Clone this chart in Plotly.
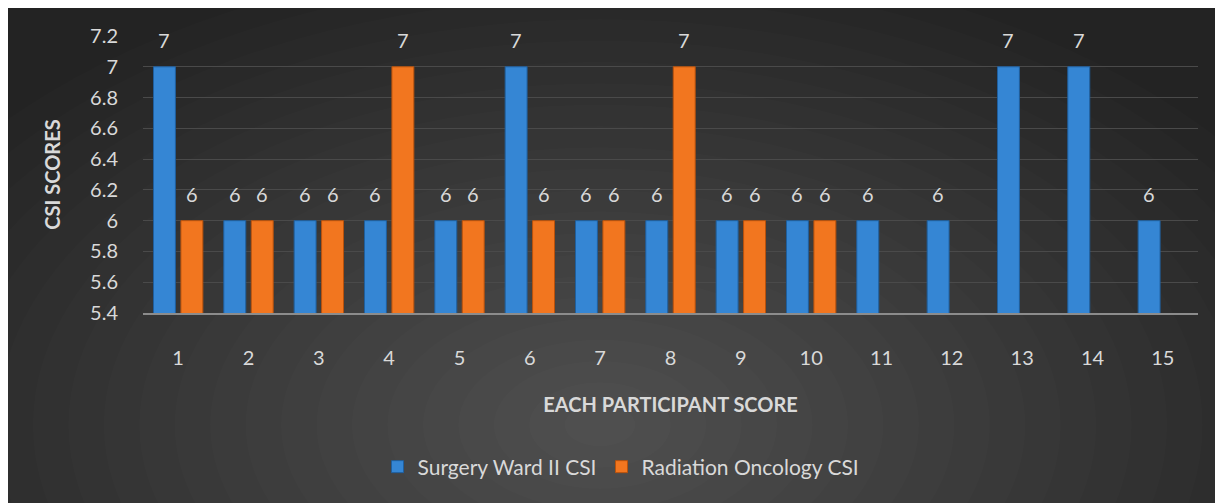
import plotly.graph_objects as go

# chart data
participants = [str(i) for i in range(1, 16)]
surgery_csi = [7, 6, 6, 6, 6, 7, 6, 6, 6, 6, 6, 6, 7, 7, 6]
radiation_csi = [6, 6, 6, 7, 6, 6, 6, 7, 6, 6, None, None, None, None, None]
y_ticks = [5.4, 5.6, 5.8, 6, 6.2, 6.4, 6.6, 6.8, 7, 7.2]

# the page body adds an 8px offset, so the figure starts at (8, 8)
W, H = 1215, 495
FONT = 'Lato, "Open Sans", sans-serif'
TXT = '#d9d9d9'


def px_x(p):
    return (p - 8) / W


def px_y(p):
    return 1 - (p - 8) / H


fig = go.Figure()

fig.add_trace(go.Bar(
    x=participants, y=surgery_csi, name='Surgery Ward II CSI',
    marker=dict(color='#3586d4', line=dict(color='#1f5f9e', width=1)),
))
fig.add_trace(go.Bar(
    x=participants, y=radiation_csi, name='Radiation Oncology CSI',
    marker=dict(color='#f2761f', line=dict(color='#b9520c', width=1)),
))

# value labels above each bar (shifted to its slot in the group);
# on a category axis the annotation x is the category's index
slot_shift = 13.7
annotations = []
for series, dx in ((surgery_csi, -slot_shift), (radiation_csi, slot_shift)):
    for idx, v in enumerate(series):
        if v is None:
            continue
        annotations.append(dict(
            x=idx, y=v, xref='x', yref='y', text=f'{v}', showarrow=False,
            xshift=dx, yshift=13, yanchor='bottom',
            font=dict(size=20, color=TXT, family=FONT),
        ))

# dark background with a soft lighter glow
shapes = []
cx, cy = 600, 425
for i in range(22):
    s = 1 - i / 22
    rx, ry = 780 * s, 470 * s
    shapes.append(dict(type='circle', xref='paper', yref='paper', layer='below',
                       x0=px_x(cx - rx), x1=px_x(cx + rx),
                       y0=px_y(cy + ry), y1=px_y(cy - ry),
                       fillcolor='rgba(255,255,255,0.0115)', line=dict(width=0)))

fig.update_layout(
    width=W, height=H,
    margin=dict(l=0, r=0, t=0, b=0, autoexpand=False),
    paper_bgcolor='#232323',
    plot_bgcolor='rgba(0,0,0,0)',
    barmode='group', bargap=0.22, bargroupgap=0.2,
    shapes=shapes,
    annotations=annotations,
    font=dict(family=FONT, size=20, color=TXT),
    xaxis=dict(
        domain=[px_x(143), px_x(1198)],
        type='category',
        showgrid=False, zeroline=False,
        showline=True, linecolor='#8c8c8c', linewidth=2,
        ticks='', ticklabelstandoff=26,
        tickfont=dict(size=20, color=TXT, family=FONT),
        title=dict(text='<b>EACH PARTICIPANT SCORE</b>', standoff=30,
                   font=dict(size=20, color=TXT, family=FONT)),
    ),
    yaxis=dict(
        domain=[px_y(313), px_y(36)],
        range=[5.4, 7.2],
        tickvals=y_ticks,
        ticktext=[f'{v:g}' for v in y_ticks],
        showgrid=True, gridcolor='#4a4a4a', gridwidth=1,
        zeroline=False, showline=False,
        ticks='', ticklabelstandoff=24,
        tickfont=dict(size=20, color=TXT, family=FONT),
        title=dict(text='<b>CSI SCORES</b>', standoff=24,
                   font=dict(size=20, color=TXT, family=FONT)),
    ),
    legend=dict(
        orientation='h', x=px_x(621), xanchor='center',
        y=px_y(467), yanchor='middle',
        font=dict(size=21, color=TXT, family=FONT),
        bgcolor='rgba(0,0,0,0)',
    ),
    showlegend=True,
)

fig.write_html('out.html')
